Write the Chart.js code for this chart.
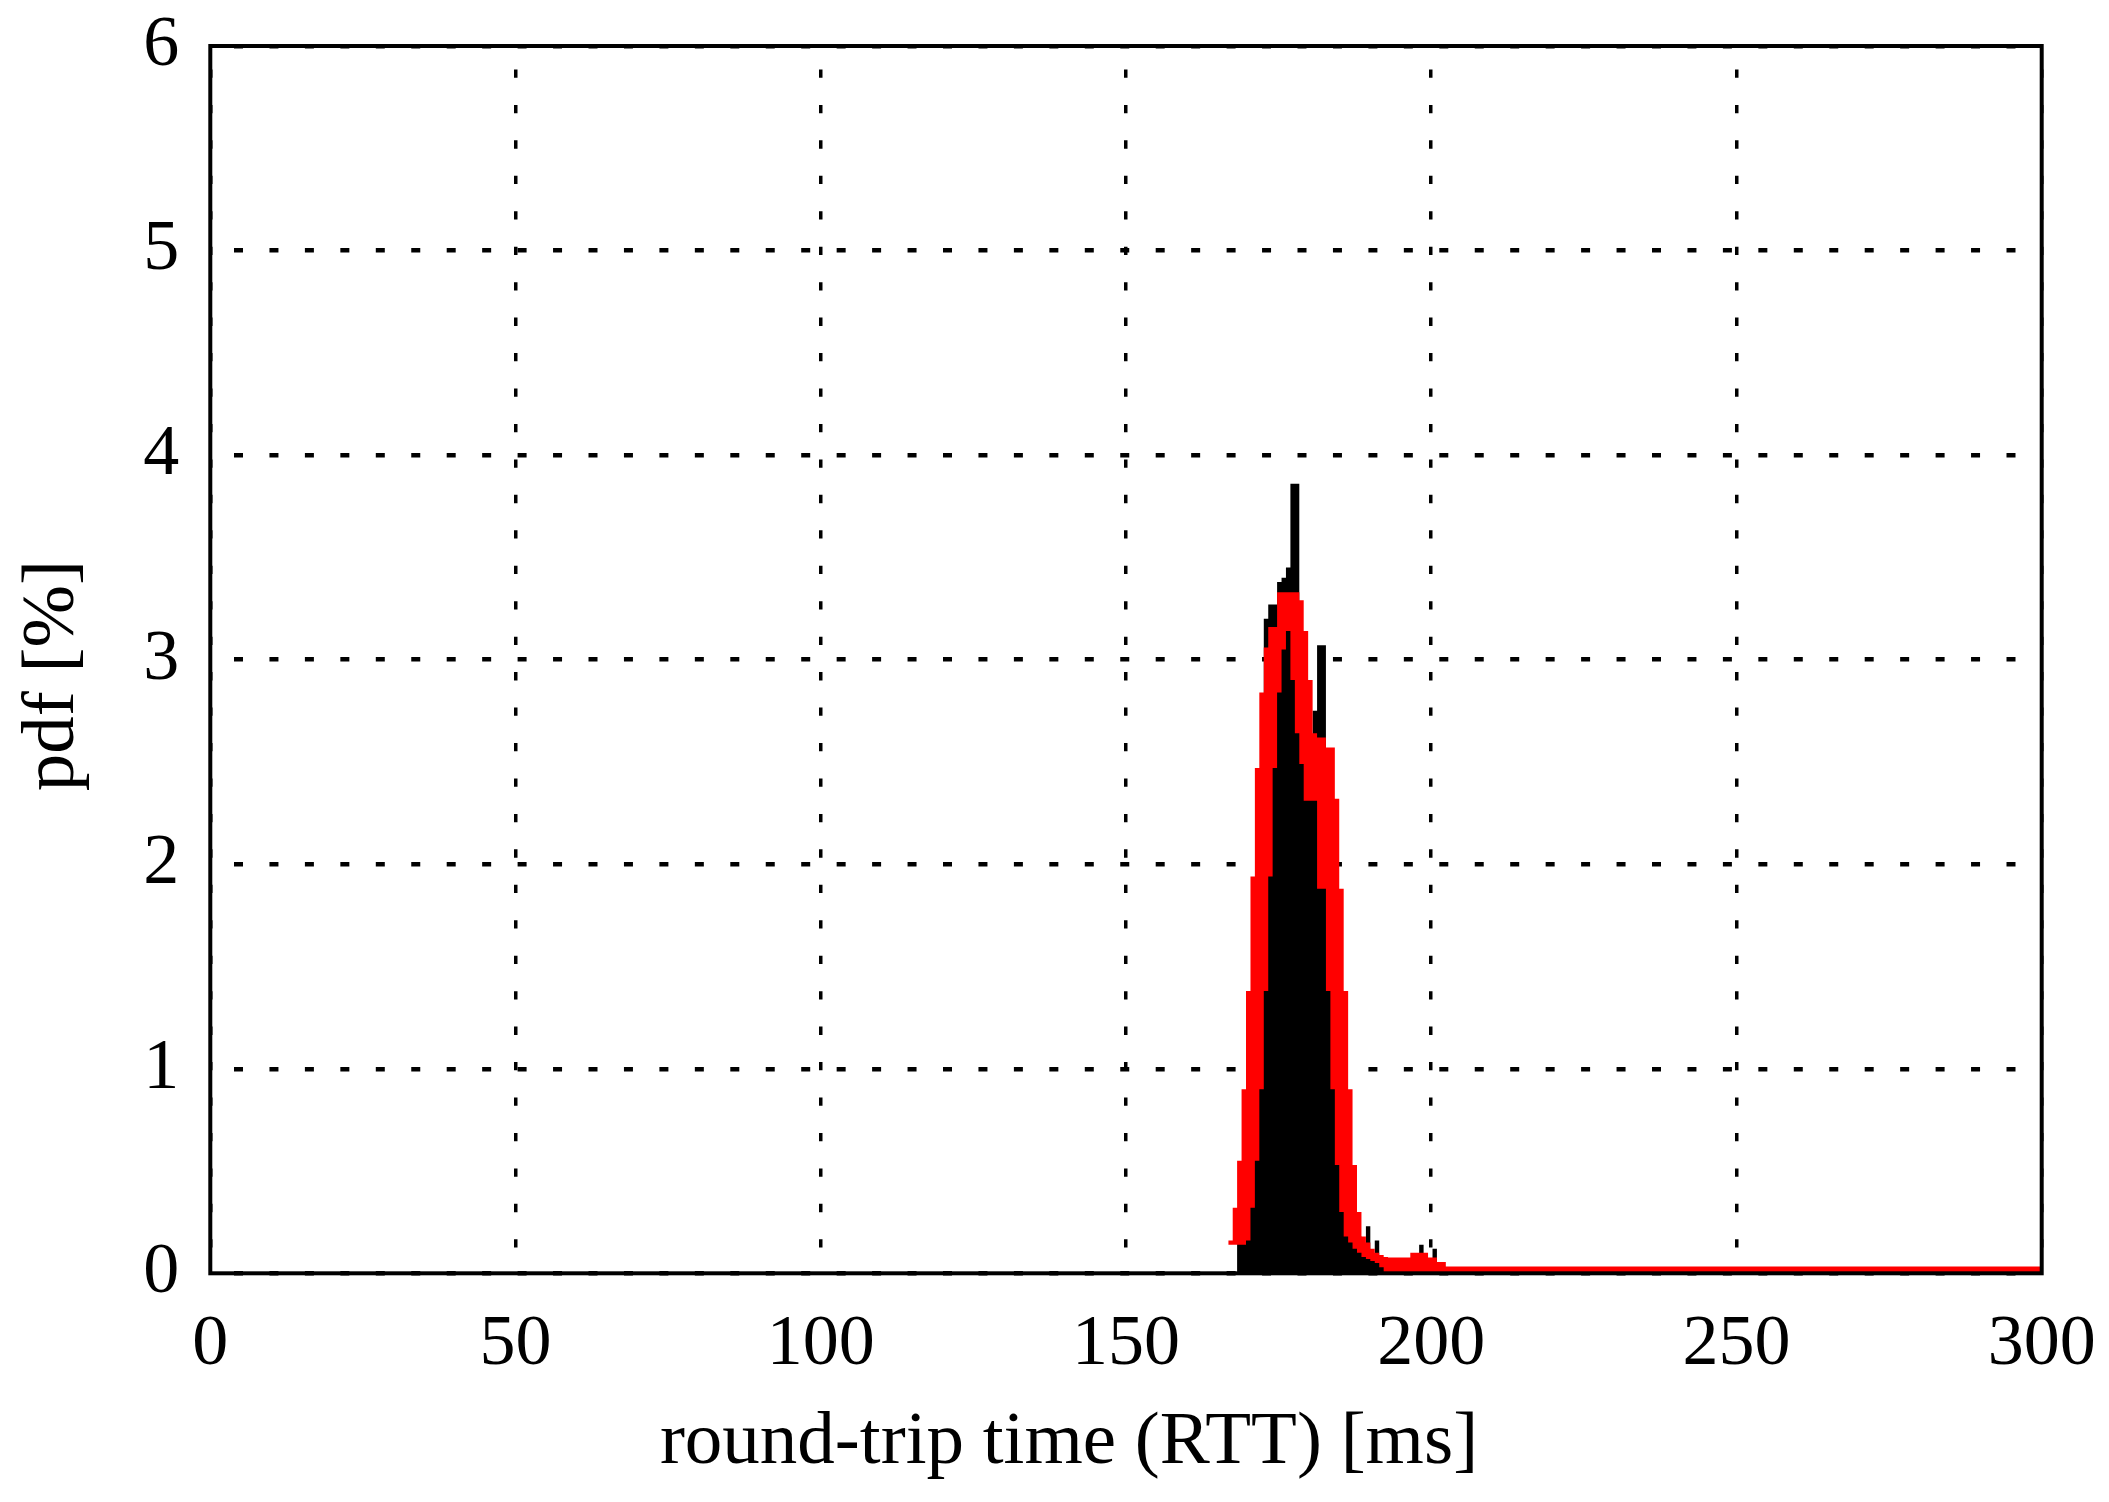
<!DOCTYPE html>
<html>
<head>
<meta charset="utf-8">
<title>RTT pdf</title>
<script src="https://cdn.jsdelivr.net/npm/chart.js@4.4.1/dist/chart.umd.min.js"></script>
<style>
  html, body { margin: 0; padding: 0; background: #fff; }
  canvas { display: block; }
</style>
</head>
<body>
<canvas id="chart" width="2109" height="1502"></canvas>
<script>
// left edge of each histogram column in ms (last entry closes at the axis end)
const rttMs = [166.75, 167.48, 168.20, 168.93, 169.66, 170.39, 171.11, 171.84, 172.57, 173.30,
  174.02, 174.75, 175.48, 176.20, 176.93, 177.66, 178.39, 179.11, 179.84, 180.57,
  181.30, 182.02, 182.75, 183.48, 184.21, 184.93, 185.66, 186.39, 187.11, 187.84,
  188.57, 189.30, 190.02, 190.75, 191.48, 192.21, 192.93, 193.66, 194.39, 195.11,
  195.84, 196.57, 197.30, 198.02, 198.75, 199.48, 200.21, 200.93, 201.66, 202.39, 300];

// measured pdf [%] (black histogram)
const pdfMeasured = [0, 0, 0.30, 0.50, 0.80, 1.20, 1.60, 2.00, 3.20, 3.27,
  3.27, 3.38, 3.40, 3.45, 3.86, 3.86, 2.90, 2.70, 2.55, 2.75,
  3.07, 3.07, 2.20, 1.80, 1.40, 1.00, 0.60, 0.40, 0.25, 0.18,
  0.13, 0.23, 0.09, 0.16, 0.06, 0.04, 0.04, 0.04, 0.04, 0.04,
  0.04, 0.04, 0.04, 0.14, 0.05, 0.05, 0.12, 0.03, 0.02, 0, 0];

// red curve, drawn as a band: upper and lower edge [%]
const pdfModelHigh = [0.16, 0.32, 0.55, 0.90, 1.38, 1.94, 2.47, 2.84, 3.06, 3.16,
  3.16, 3.33, 3.33, 3.33, 3.33, 3.33, 3.29, 3.14, 2.90, 2.64,
  2.62, 2.62, 2.57, 2.57, 2.32, 1.88, 1.38, 0.90, 0.53, 0.30,
  0.18, 0.15, 0.12, 0.10, 0.09, 0.08, 0.077, 0.077, 0.077, 0.077,
  0.077, 0.10, 0.10, 0.10, 0.10, 0.077, 0.077, 0.055, 0.055, 0.033, 0.033];
const pdfModelLow = [0.14, 0.14, 0.14, 0.14, 0.16, 0.32, 0.55, 0.90, 1.38, 1.94,
  2.47, 2.84, 3.05, 3.14, 2.90, 2.64, 2.49, 2.31, 2.31, 2.31,
  1.88, 1.88, 1.38, 0.90, 0.53, 0.30, 0.18, 0.15, 0.12, 0.10,
  0.08, 0.07, 0.06, 0.05, 0.03, 0, 0, 0, 0, 0,
  0, 0, 0, 0, 0, 0, 0, 0, 0, 0, 0];

const xTicks = [0, 50, 100, 150, 200, 250, 300];
const yTicks = [0, 1, 2, 3, 4, 5, 6];
const xTitle = 'round-trip time (RTT) [ms]';
const yTitle = 'pdf [%]';

const FONT = 'Liberation Serif';

const toPoints = (vals) => rttMs.map((x, i) => ({ x: x, y: vals[i] }));

// box around the plot and the two axis titles
const framePlugin = {
  id: 'frame',
  afterDatasetsDraw(chart) {
    const { ctx, chartArea: a } = chart;
    ctx.save();
    ctx.strokeStyle = '#000';
    ctx.lineWidth = 4;
    ctx.strokeRect(a.left, a.top, a.right - a.left, a.bottom - a.top);
    ctx.restore();
  },
  afterDraw(chart) {
    const { ctx, chartArea: a } = chart;
    ctx.save();
    ctx.fillStyle = '#000';
    ctx.font = '75px "' + FONT + '"';
    ctx.textAlign = 'center';
    ctx.textBaseline = 'alphabetic';
    ctx.fillText(xTitle, (a.left + a.right) / 2 - 57, 1463);
    ctx.translate(73, (a.top + a.bottom) / 2 + 16);
    ctx.rotate(-Math.PI / 2);
    ctx.fillText(yTitle, 0, 0);
    ctx.restore();
  }
};

const ctx = document.getElementById('chart').getContext('2d');

new Chart(ctx, {
  type: 'line',
  data: {
    datasets: [
      {
        label: 'model high',
        data: toPoints(pdfModelHigh),
        stepped: true,
        fill: '+1',
        backgroundColor: '#ff0000',
        borderColor: 'rgba(0,0,0,0)',
        borderWidth: 0,
        pointRadius: 0,
        order: 0,
      },
      {
        label: 'model low',
        data: toPoints(pdfModelLow),
        stepped: true,
        fill: false,
        borderColor: 'rgba(0,0,0,0)',
        borderWidth: 0,
        pointRadius: 0,
        order: 0,
      },
      {
        label: 'measured',
        data: toPoints(pdfMeasured),
        stepped: true,
        fill: 'origin',
        backgroundColor: '#000000',
        borderColor: 'rgba(0,0,0,0)',
        borderWidth: 0,
        pointRadius: 0,
        order: 1,
      },
    ],
  },
  options: {
    responsive: false,
    animation: false,
    devicePixelRatio: 1,
    layout: { padding: { left: 0, right: 67.3, top: 46, bottom: 0 } },
    plugins: {
      legend: { display: false },
      tooltip: { enabled: false },
    },
    scales: {
      x: {
        type: 'linear',
        min: xTicks[0],
        max: xTicks[xTicks.length - 1],
        afterBuildTicks: (s) => { s.ticks = xTicks.map((v) => ({ value: v })); },
        afterFit: (s) => {
          s.height = 228.7;
          s.paddingLeft = 0;
          s.paddingRight = 0;
        },
        ticks: {
          color: '#000',
          font: { family: FONT, size: 72 },
          padding: 29,
          maxRotation: 0,
          autoSkip: false,
        },
        grid: { color: '#000', lineWidth: 3.5, drawTicks: false },
        border: { display: false, dash: [8.3, 27.15], dashOffset: 12 },
      },
      y: {
        type: 'linear',
        min: yTicks[0],
        max: yTicks[yTicks.length - 1],
        afterBuildTicks: (s) => { s.ticks = yTicks.map((v) => ({ value: v })); },
        afterFit: (s) => {
          s.width = 210.3;
          s.paddingTop = 0;
          s.paddingBottom = 0;
        },
        ticks: {
          color: '#000',
          font: { family: FONT, size: 72 },
          padding: 31,
          autoSkip: false,
        },
        grid: { color: '#000', lineWidth: 4.5, drawTicks: false },
        border: { display: false, dash: [9, 26.45], dashOffset: 11.45 },
      },
    },
  },
  plugins: [framePlugin],
});
</script>
</body>
</html>
